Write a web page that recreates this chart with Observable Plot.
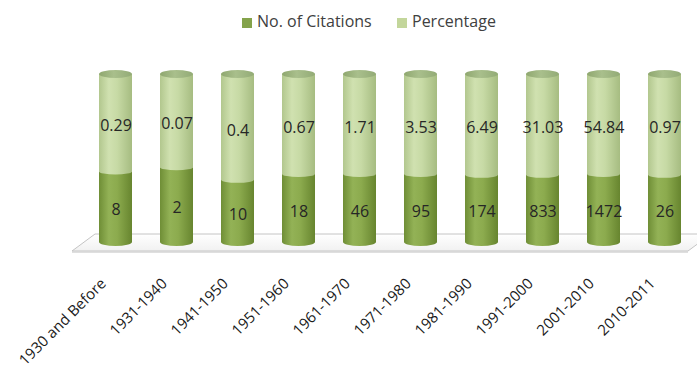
<!DOCTYPE html>
<html><head><meta charset="utf-8">
<script src="https://cdn.jsdelivr.net/npm/d3@7"></script>
<script src="https://cdn.jsdelivr.net/npm/@observablehq/plot@0.6"></script>
<style>
body{margin:0;background:#fff;width:697px;height:368px;overflow:hidden;position:relative;font-family:"Open Sans",sans-serif;}
#legend{position:absolute;left:0;top:0;width:697px;height:40px;}
.sw{position:absolute;top:18px;width:10px;height:10px;}
.lt{position:absolute;top:11px;font-size:16px;line-height:20px;color:#404040;white-space:nowrap;}
#chart{position:absolute;left:0;top:40px;}
</style></head><body>
<div id="legend"></div><div id="chart"></div>
<script>
const periods = ["1930 and Before","1931-1940","1941-1950","1951-1960","1961-1970","1971-1980","1981-1990","1991-2000","2001-2010","2010-2011"];
const citations = [8, 2, 10, 18, 46, 95, 174, 833, 1472, 26];
const percentages = [0.29, 0.07, 0.4, 0.67, 1.71, 3.53, 6.49, 31.03, 54.84, 0.97];
// share of each cylinder's height drawn in dark green, as it appears in the picture (%)
const citationShare = [42, 44.5, 37, 40.5, 40.5, 40.5, 40, 40, 40.5, 40];
const seriesNames = ["No. of Citations", "Percentage"];
const seriesColors = ["#84a34b", "#c3d69b"];

const rows = periods.map((p, i) => ({period: p, citations: citations[i], percentage: percentages[i], share: citationShare[i]}));

// legend
const legend = document.getElementById("legend");
[[242, 257], [397, 412]].forEach(([sx, tx], i) => {
  const s = document.createElement("div"); s.className = "sw"; s.style.left = sx + "px"; s.style.background = seriesColors[i]; legend.appendChild(s);
  const t = document.createElement("div"); t.className = "lt"; t.style.left = tx + "px"; t.textContent = seriesNames[i]; legend.appendChild(t);
});

function bandOf(x) { return typeof x.bandwidth === "function" ? x.bandwidth() : x.bandwidth; }

function addGrad(defs, id, stops, vertical) {
  const g = defs.append("linearGradient").attr("id", id).attr("x1", 0).attr("y1", 0).attr("x2", vertical ? 0 : 1).attr("y2", vertical ? 1 : 0);
  stops.forEach(([o, c]) => g.append("stop").attr("offset", o).attr("stop-color", c));
}

function floor(index, scales, values, dimensions) {
  const {y} = scales;
  const {width, marginLeft, marginRight} = dimensions;
  const g = d3.create("svg:g");
  const defs = g.append("defs");
  addGrad(defs, "gDark", [[0, "#6f8e36"], [0.3, "#93b256"], [0.55, "#8cab4e"], [1, "#67852f"]]);
  addGrad(defs, "gLight", [[0, "#b2c78e"], [0.3, "#d0e1b0"], [0.55, "#c7daa5"], [1, "#a6bc81"]]);
  addGrad(defs, "gCap", [[0, "#8fa76f"], [0.45, "#a9bf8c"], [1, "#93ab76"]]);
  addGrad(defs, "gFloor", [[0, "#ffffff"], [1, "#f1f1f1"]], true);
  const y0 = y(0);
  const fl = marginLeft - 12, bl = marginLeft + 11, fr = width - marginRight - 7, br = fr + 23;
  const yb = y0 - 8, yf = y0 + 9;
  g.append("path").attr("d", `M${fl},${yf}L${bl},${yb}L${br},${yb}L${fr},${yf}Z`)
    .attr("fill", "url(#gFloor)").attr("stroke", "#c4c4c4").attr("stroke-width", 1);
  g.append("path").attr("d", `M${fl},${yf + 1}L${fr},${yf + 1}`).attr("stroke", "#d4d4d4").attr("stroke-width", 1.5);
  return g.node();
}

function caps(index, scales) {
  const {x, y} = scales;
  const bw = bandOf(x);
  const g = d3.create("svg:g");
  rows.forEach(d => {
    const l = x(d.period), r = l + bw, cx = l + bw / 2, rx = bw / 2;
    const y0 = y(0), ys = y(d.share), yt = y(100);
    g.append("path").attr("d", `M${l},${y0 - 2}L${l},${y0}A${rx},4 0 0 0 ${r},${y0}L${r},${y0 - 2}Z`).attr("fill", "url(#gDark)");
    g.append("path").attr("d", `M${l},${ys - 2}L${l},${ys}A${rx},3 0 0 0 ${r},${ys}L${r},${ys - 2}Z`).attr("fill", "url(#gLight)");
    g.append("ellipse").attr("cx", cx).attr("cy", yt).attr("rx", rx).attr("ry", 4).attr("fill", "url(#gCap)");
  });
  return g.node();
}

const chart = Plot.plot({
  width: 697, height: 328,
  marginLeft: 84, marginRight: 2, marginTop: 34, marginBottom: 126,
  x: {domain: periods, paddingInner: 0.46, paddingOuter: 0.2, axis: null},
  y: {domain: [0, 100], axis: null},
  style: {fontFamily: '"Open Sans", sans-serif', fontSize: "16px", background: "transparent", overflow: "visible"},
  marks: [
    floor,
    Plot.barY(rows, {x: "period", y1: 0, y2: "share", fill: "url(#gDark)"}),
    Plot.barY(rows, {x: "period", y1: "share", y2: 100, fill: "url(#gLight)"}),
    caps,
    Plot.text(rows, {x: "period", y: d => d.share / 2, text: d => String(d.citations), dy: 3, fill: "#262626"}),
    Plot.text(rows, {x: "period", y: d => (d.share + 100) / 2, text: d => String(d.percentage), dy: 3, fill: "#262626"}),
    Plot.text(rows, {x: "period", y: 0, text: "period", rotate: -45, textAnchor: "end", lineAnchor: "bottom", dx: -9, dy: 42, fontSize: 15, fill: "#1a1a1a"})
  ]
});
document.getElementById("chart").appendChild(chart);
</script>
</body></html>
